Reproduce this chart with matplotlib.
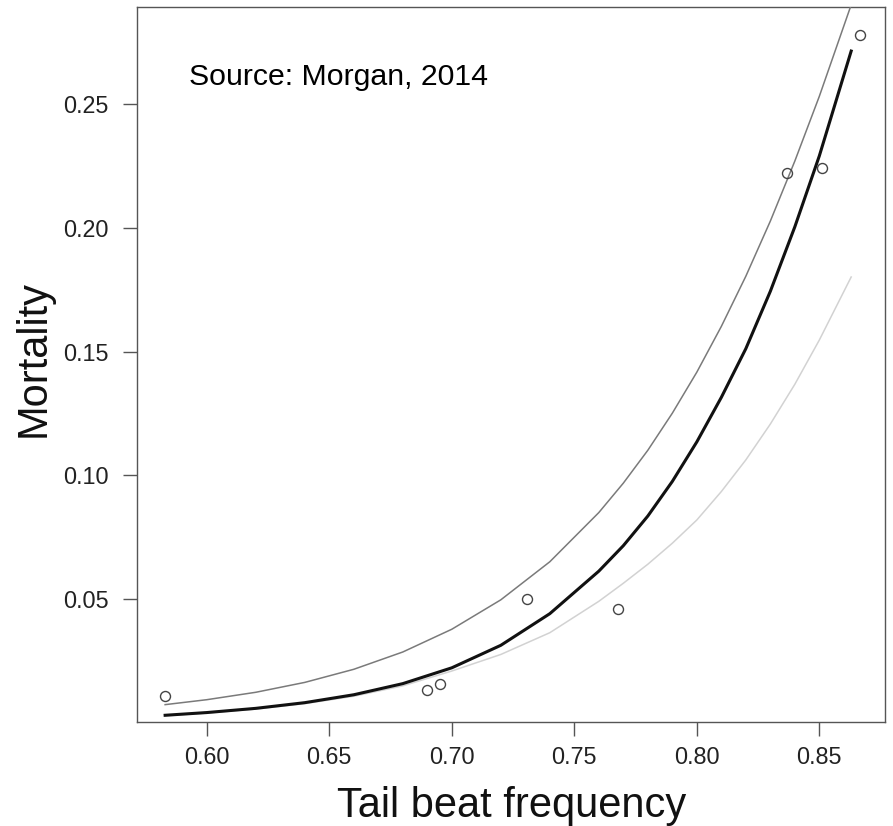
import matplotlib
matplotlib.use("Agg")
import matplotlib.pyplot as plt

# Observed points
obs_x = [0.583, 0.690, 0.695, 0.7306, 0.768, 0.8366, 0.851, 0.8664]
obs_y = [0.0108, 0.0130, 0.0156, 0.0499, 0.0457, 0.2221, 0.2242, 0.2781]

curve_x = [0.583, 0.60, 0.62, 0.64, 0.66, 0.68, 0.70, 0.72, 0.74, 0.76,
           0.77, 0.78, 0.79, 0.80, 0.81, 0.82, 0.83, 0.84, 0.85, 0.863]

# Fitted curve (black)
fit_y = [0.0029, 0.0040, 0.0057, 0.0080, 0.0112, 0.0157, 0.0221, 0.0312, 0.0440, 0.0612,
         0.0715, 0.0835, 0.0975, 0.1135, 0.1315, 0.1512, 0.1744, 0.2005, 0.2292, 0.2716]

# Upper curve (mid grey)
up_y = [0.0072, 0.0092, 0.0122, 0.0162, 0.0215, 0.0285, 0.0377, 0.0496, 0.0650, 0.0849,
        0.0968, 0.1101, 0.1251, 0.1417, 0.1602, 0.1805, 0.2028, 0.2271, 0.2533, 0.2903]

# Lower curve (light grey)
lo_y = [0.0027, 0.0038, 0.0054, 0.0076, 0.0106, 0.0148, 0.0208, 0.0275, 0.0363, 0.0490,
        0.0563, 0.0640, 0.0725, 0.0819, 0.0934, 0.1062, 0.1207, 0.1368, 0.1547, 0.1802]

x_ticks = [0.60, 0.65, 0.70, 0.75, 0.80, 0.85]
x_tick_labels = ["0.60", "0.65", "0.70", "0.75", "0.80", "0.85"]
y_ticks = [0.05, 0.10, 0.15, 0.20, 0.25]
y_tick_labels = ["0.05", "0.10", "0.15", "0.20", "0.25"]

plt.rcParams['font.family'] = ['Liberation Sans', 'DejaVu Sans']

W, H = 893, 826
fig = plt.figure(figsize=(W / 100, H / 100), dpi=100)
ax = fig.add_axes([136.7 / W, 1 - 721.7 / H, (885 - 136.7) / W, (721.7 - 7.3) / H])

ax.plot(curve_x, lo_y, color='#d2d2d2', lw=1.1, zorder=2)
ax.plot(curve_x, up_y, color='#7a7a7a', lw=1.1, zorder=3)
ax.plot(curve_x, fit_y, color='#111111', lw=2.2, zorder=4)
ax.plot(obs_x, obs_y, linestyle='none', marker='o', markersize=7.2,
        markerfacecolor='none', markeredgecolor='#444444', markeredgewidth=1.0, zorder=5)

ax.set_xlim(0.5714, 0.8768)
ax.set_ylim(0.0003, 0.2893)

ax.set_xticks(x_ticks)
ax.set_xticklabels(x_tick_labels)
ax.set_yticks(y_ticks)
ax.set_yticklabels(y_tick_labels)

for s in ax.spines.values():
    s.set_color('#555555')
    s.set_linewidth(1.0)

ax.tick_params(axis='both', direction='out', length=9.9, width=1.0, color='#555555',
               labelsize=16.8, labelcolor='#222222')
ax.tick_params(axis='x', pad=7.5)
ax.tick_params(axis='y', pad=10.5)

ax.text(0.5928, 0.2577, "Source: Morgan, 2014", fontsize=21.8, color='black',
        ha='left', va='baseline')

fig.text(511.7 / W, 1 - 816.7 / H, "Tail beat frequency", fontsize=30, color='#111111',
         ha='center', va='baseline')
fig.text(34 / W, 1 - 358 / H, "Mortality", fontsize=30, color='#111111',
         rotation=90, ha='center', va='center')

fig.savefig("out.png", dpi=100)
